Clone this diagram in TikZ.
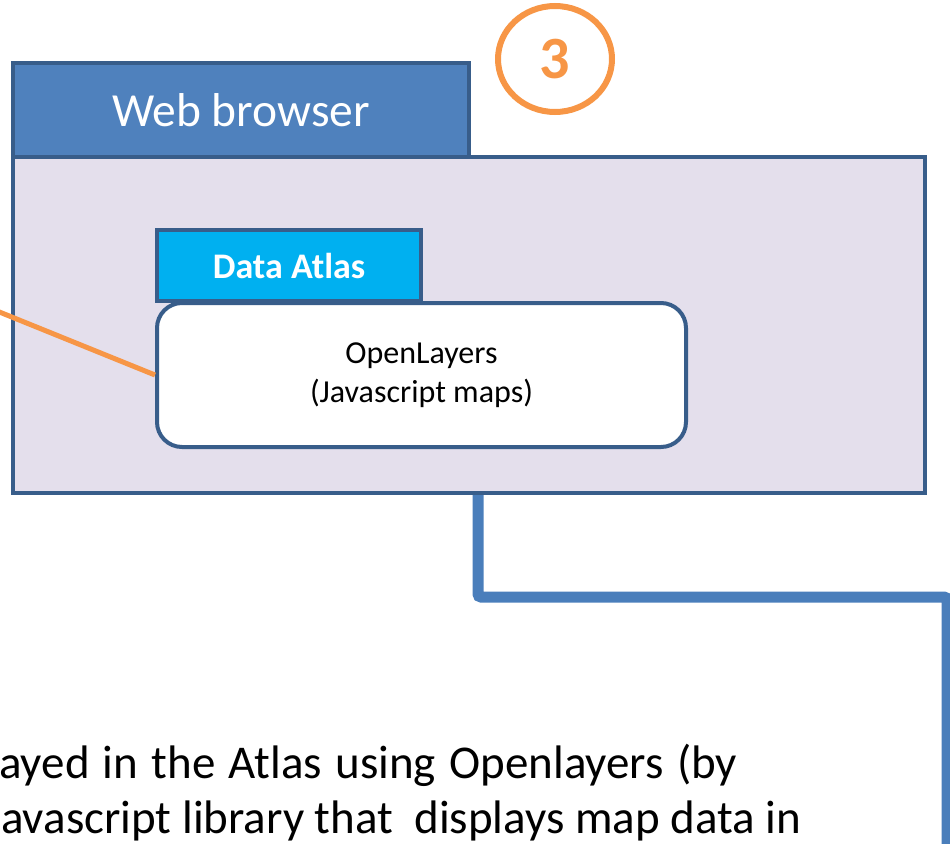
\documentclass[tikz,border=0pt]{standalone}
\usepackage{fontspec}
\setmainfont{Carlito}
\usetikzlibrary{shapes.geometric}
\definecolor{bord}{HTML}{385D8A}
\definecolor{tabblue}{HTML}{4F81BD}
\definecolor{lav}{HTML}{E4DFEC}
\definecolor{cyanbox}{HTML}{00B0F0}
\definecolor{conn}{HTML}{4A7EBB}
\definecolor{orng}{HTML}{F79646}
\tikzset{
  box/.style={draw=bord, line width=4pt, inner sep=0pt, rectangle},
  conline/.style={draw=conn, line width=11pt, rounded corners=3pt},
  orline/.style={draw=orng, line width=5pt},
  bodytext/.style={anchor=base west, inner sep=0pt, font=\fontsize{47}{55}\selectfont},
}
\begin{document}
\begin{tikzpicture}[x=1pt,y=-1pt]
\useasboundingbox (0,0) rectangle (950,843);
\begin{scope}
\clip (0,0) rectangle (950,843);
\coordinate (c1) at (478,597);
\coordinate (c2) at (947,597);
\coordinate (cend) at (947,860);
\coordinate (o0) at (-8,309);
\node[box, fill=lav, minimum width=912pt, minimum height=336pt] (main) at (469,325) {};
\node[box, fill=tabblue, minimum width=456pt, minimum height=94pt, text=white, font=\fontsize{47.5}{56}\selectfont] (tab) at (241,110) {Web browser};
\draw[conline] (main.south -| c1) -- (c1) -- (c2) -- (cend);
\node[draw=orng, line width=6pt, ellipse, minimum width=114pt, minimum height=106pt, text=orng, font=\bfseries\fontsize{60}{60}\selectfont, inner sep=0pt] (num) at (555,59) {3};
\node[box, fill=cyanbox, minimum width=264pt, minimum height=71pt, text=white, font=\bfseries\fontsize{36}{40}\selectfont] (atlas) at (289,265.5) {Data Atlas};
\node[box, fill=white, rounded corners=25pt, minimum width=529pt, minimum height=144pt, align=center, font=\fontsize{32}{39}\selectfont] (ol) at (421.5,375) {OpenLayers\\(Javascript maps)};
\draw[orline] (o0) -- (ol.west);
\node[bodytext] (t1) at (-1,778) {\makebox[738pt][s]{ayed in the Atlas using Openlayers (by}};
\node[bodytext] (t2) at (1,833) {avascript library that\ \ displays map data in};
\end{scope}
\end{tikzpicture}
\end{document}
